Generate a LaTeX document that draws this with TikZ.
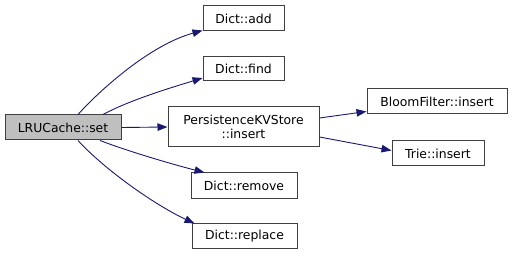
\documentclass[tikz,border=0pt]{standalone}
\usepackage{fontspec}
\setmainfont{DejaVu Sans}
\usetikzlibrary{arrows.meta}
\definecolor{edgeblue}{HTML}{191970}
\definecolor{boxline}{HTML}{404040}
\definecolor{rootfill}{HTML}{BFBFBF}
\begin{document}
\begin{tikzpicture}[x=1pt,y=-1pt,
  fn/.style={draw=boxline, line width=1pt, fill=white, inner sep=0pt, align=center,
    font=\fontsize{12.4}{14.5}\selectfont},
  rootfn/.style={fn, fill=rootfill},
  call/.style={draw=edgeblue, line width=0.9pt,
    -{Triangle[length=10pt,width=7.5pt]}}]
\useasboundingbox (0,0) rectangle (515,256);

\node[rootfn, minimum width=116pt, minimum height=25pt] (set) at (63,127.5) {LRUCache::set};
\node[fn, minimum width=81pt, minimum height=25pt] (add) at (243.5,18.5) {Dict::add};
\node[fn, minimum width=81pt, minimum height=24pt] (find) at (243.5,69) {Dict::find};
\node[fn, minimum width=151pt, minimum height=40pt] (pkv) at (243.5,127) {PersistenceKVStore\\::insert};
\node[fn, minimum width=106pt, minimum height=26pt] (remove) at (244,186) {Dict::remove};
\node[fn, minimum width=105pt, minimum height=25pt] (replace) at (244.5,236.5) {Dict::replace};
\node[fn, minimum width=140pt, minimum height=25pt] (bloom) at (437,101.5) {BloomFilter::insert};
\node[fn, minimum width=92pt, minimum height=25pt] (trie) at (438,153.5) {Trie::insert};

\draw[call] ([xshift=15pt]set.north) .. controls (100,90) and (150,45) .. ([yshift=1pt]add.south west);
\draw[call] ([xshift=40pt]set.north) .. controls (130,100) and (170,88) .. ([yshift=-9pt]find.west);
\draw[call] (set.east) -- (pkv.west);
\draw[call] ([xshift=37pt]set.south) .. controls (130,152) and (175,165) .. ([xshift=14pt]remove.north west);
\draw[call] ([xshift=15pt]set.south) .. controls (105,170) and (155,205) .. ([xshift=3pt]replace.north west);
\draw[call] ([yshift=9pt]pkv.east) -- ([yshift=-10pt]bloom.west);
\draw[call] ([yshift=-10pt]pkv.east) -- ([yshift=3pt]trie.west);
\end{tikzpicture}
\end{document}
